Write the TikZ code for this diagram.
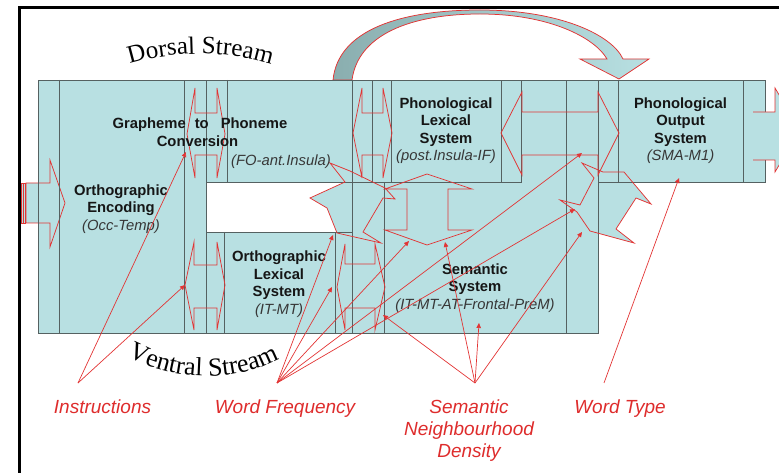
\documentclass[tikz,border=0pt]{standalone}
\usepackage{fontspec}
\setmainfont{Liberation Sans}
\newfontfamily\serifwa{Liberation Serif}
\usetikzlibrary{arrows.meta,decorations.text}
\definecolor{teallt}{RGB}{184,224,226}
\definecolor{tealdk}{RGB}{138,174,175}
\definecolor{gline}{RGB}{85,97,97}
\definecolor{redl}{RGB}{226,52,52}
\definecolor{redt}{RGB}{222,44,44}
\definecolor{txt}{RGB}{22,22,22}
\definecolor{itx}{RGB}{55,55,55}
\begin{document}
\begin{tikzpicture}[x=1pt,y=-1pt,
  blkfill/.style={fill=teallt},
  blkline/.style={draw=gline,line width=0.9pt},
  redarrow/.style={draw=redl,line width=0.75pt,line join=miter},
  bold/.style={font=\fontsize{14.8}{17.5}\selectfont\bfseries,text=txt,align=center,anchor=base,inner sep=0pt},
  ital/.style={font=\fontsize{14.8}{17.5}\selectfont\itshape,text=itx,anchor=base,inner sep=0pt},
  redlab/.style={font=\fontsize{19}{22}\selectfont\itshape,text=redt,align=center,anchor=base,inner sep=0pt},
  conn/.style={draw=redl,line width=0.7pt,-{Triangle[length=5pt,width=4.5pt]}},
]
\useasboundingbox (0,0) rectangle (779,473);
\clip (0,0) rectangle (779,473);

% frame
\draw[line width=3pt] (19,480) -- (19,8) -- (790,8);

% block fills
\fill[blkfill] (38,80) rectangle (352,182);
\fill[blkfill] (38,182) rectangle (206,333);
\fill[blkfill] (206,232) rectangle (352,333);
\fill[blkfill] (352,80) rectangle (598,333);
\fill[blkfill] (598,80) rectangle (765,182);

% input arrow
\fill[teallt] (26,183) -- (50,183) -- (50,160) -- (65,203) -- (50,247) -- (50,223) -- (26,223) -- cycle;
\draw[redarrow] (26,183) -- (50,183) -- (50,160) -- (65,203) -- (50,247) -- (50,223) -- (26,223) -- cycle;
\draw[redarrow,fill=teallt] (21,183) rectangle (23,223);
\draw[redarrow,fill=teallt] (23.8,183) rectangle (25.6,223);

% curved arrow (dorsal to output)
\path[draw=redl,line width=0.75pt,left color=tealdk,right color=teallt]
  (333,80) .. controls (338,30) and (400,10) .. (480,10)
  .. controls (560,10) and (612,35) .. (623,59)
  -- (649,59) -- (619,79) -- (580,59) -- (607,59)
  .. controls (595,38) and (550,14) .. (480,14)
  .. controls (410,14) and (358,35) .. (352,80) -- cycle;

% star fills
\fill[teallt] (330,163) -- (350,171) -- (385,188) -- (395,199) -- (383,198) -- (363,232) -- (381,243) -- (337,233) -- (327,208) -- (310,198) -- (345,182) -- cycle;
\fill[teallt] (582,163) -- (603,172) -- (624,172) -- (651,204) -- (636,198) -- (616,229) -- (634,243) -- (590,231) -- (577,212) -- (560,200) -- (580,205) -- (594,178) -- cycle;

% block outlines
\draw[blkline] (38,80) rectangle (184,333);
\draw[blkline] (59,80) -- (59,333);
\draw[blkline] (184,80) rectangle (206,333);
\draw[blkline] (206,80) rectangle (352,182);
\draw[blkline] (227,80) -- (227,182);
\draw[blkline] (206,232) rectangle (335,333);
\draw[blkline] (224,232) -- (224,333);
\draw[blkline] (335,232) rectangle (352,333);
\draw[blkline] (352,80) rectangle (372,182);
\draw[blkline] (372,80) rectangle (391,182);
\draw[blkline] (352,182) rectangle (384,333);
\draw[blkline] (384,182) -- (521,182) -- (521,80) -- (566,80) -- (566,333) -- (384,333) -- cycle;
\draw[blkline] (391,80) rectangle (501,182);
\draw[blkline] (501,80) rectangle (521,182);
\draw[blkline] (566,80) rectangle (598,333);
\draw[blkline] (598,80) rectangle (618,182);
\draw[blkline] (618,80) rectangle (743,182);
\draw[blkline] (743,80) rectangle (765,182);

% output arrow
\fill[teallt] (753,112) -- (775,112) -- (775,88) -- (800,130) -- (775,172) -- (775,160) -- (753,160) -- cycle;
\draw[redarrow] (753,112) -- (775,112) -- (775,88) -- (800,130) -- (775,172) -- (775,160) -- (753,160);

% star outlines
\draw[redarrow] (330,163) -- (350,171) -- (385,188) -- (395,199) -- (383,198) -- (363,232) -- (381,243) -- (337,233) -- (327,208) -- (310,198) -- (345,182) -- cycle;
\draw[redarrow] (582,163) -- (603,172) -- (624,172) -- (651,204) -- (636,198) -- (616,229) -- (634,243) -- (590,231) -- (577,212) -- (560,200) -- (580,205) -- (594,178) -- cycle;

% double-headed outline arrows
\draw[redarrow] (187,134) -- (195,88) -- (195,113) -- (217,113) -- (217,88) -- (225,134) -- (217,178) -- (217,155) -- (195,155) -- (195,178) -- cycle;
\draw[redarrow] (185,285) -- (194,242) -- (194,265) -- (217,265) -- (217,242) -- (225,285) -- (217,330) -- (217,308) -- (194,308) -- (194,330) -- cycle;
\draw[redarrow] (353,133) -- (362,88) -- (362,113) -- (383,113) -- (383,88) -- (392,133) -- (383,178) -- (383,155) -- (362,155) -- (362,178) -- cycle;
\draw[redarrow] (337,287) -- (345,244) -- (345,264) -- (375,264) -- (375,244) -- (385,287) -- (375,330) -- (375,308) -- (345,308) -- (345,330) -- cycle;
\draw[redarrow] (501,133) -- (522,92) -- (522,112) -- (598,112) -- (598,92) -- (619,133) -- (598,175) -- (598,155) -- (522,155) -- (522,175) -- cycle;
\draw[redarrow] (427,174) -- (472,189) -- (448,189) -- (448,230) -- (472,230) -- (427,245) -- (385,230) -- (407,230) -- (407,189) -- (385,189) -- cycle;

% block texts (anchor = baseline of the last line)
\node[bold] (oe) at (121,230) {Orthographic\\Encoding\\{\mdseries\itshape\color{itx}(Occ-Temp)}};
\node[bold] (gp1) at (200,129) {Grapheme\hspace{9pt}to\hspace{12pt}Phoneme};
\node[bold] (gp2) at (197.5,147) {Conversion};
\node[ital] (gp3) at (281,166) {(FO-ant.Insula)};
\node[bold] (pl) at (446,161) {Phonological\\Lexical\\System\\{\mdseries\itshape\color{itx}(post.Insula-IF)}};
\node[bold] (po) at (680.5,161) {Phonological\\Output\\System\\{\mdseries\itshape\color{itx}(SMA-M1)}};
\node[bold] (ol) at (279,314) {Orthographic\\Lexical\\System\\{\mdseries\itshape\color{itx}(IT-MT)}};
\node[bold] (ss) at (475,309) {Semantic\\System\\{\mdseries\itshape\color{itx}(IT-MT-AT-Frontal-PreM)}};

% stream labels
\path[decorate,decoration={text along path,text align=center,
  text={|\serifwa\fontsize{25}{29}\selectfont|Dorsal Stream}}]
  (124,66) .. controls (170,50) and (230,50) .. (277,66);
\path[decorate,decoration={text along path,text align=center,
  text={|\serifwa\fontsize{26}{30}\selectfont|Ventral Stream}}]
  (120,352) .. controls (170,384) and (240,384) .. (287,354);

% red labels
\node[redlab] (ins) at (102.5,413) {Instructions};
\node[redlab] (wf) at (285,413) {Word Frequency};
\node[redlab] (snd) at (469,457) {Semantic\\Neighbourhood\\Density};
\node[redlab] (wt) at (620,413) {Word Type};

% connector points
\coordinate (ia) at (78,383);
\coordinate (wa) at (277,383);
\coordinate (sa) at (475,383);
\coordinate (ta) at (604,383);
\coordinate (i1) at (186,152);
\coordinate (i2) at (185,285);
\coordinate (w1) at (333,235);
\coordinate (w2) at (332,287);
\coordinate (w3) at (409,241);
\coordinate (w4) at (582,153);
\coordinate (w5) at (575,209);
\coordinate (s1) at (383,315);
\coordinate (s2) at (445,242);
\coordinate (s3) at (479,323);
\coordinate (s4) at (582,232);
\coordinate (t1) at (679,178);

\draw[conn] (ia) -- (i1);
\draw[conn] (ia) -- (i2);
\draw[conn] (wa) -- (w1);
\draw[conn] (wa) -- (w2);
\draw[conn] (wa) -- (w3);
\draw[conn] (wa) -- (w4);
\draw[conn] (wa) -- (w5);
\draw[conn] (sa) -- (s1);
\draw[conn] (sa) -- (s2);
\draw[conn] (sa) -- (s3);
\draw[conn] (sa) -- (s4);
\draw[conn] (ta) -- (t1);
\end{tikzpicture}
\end{document}
